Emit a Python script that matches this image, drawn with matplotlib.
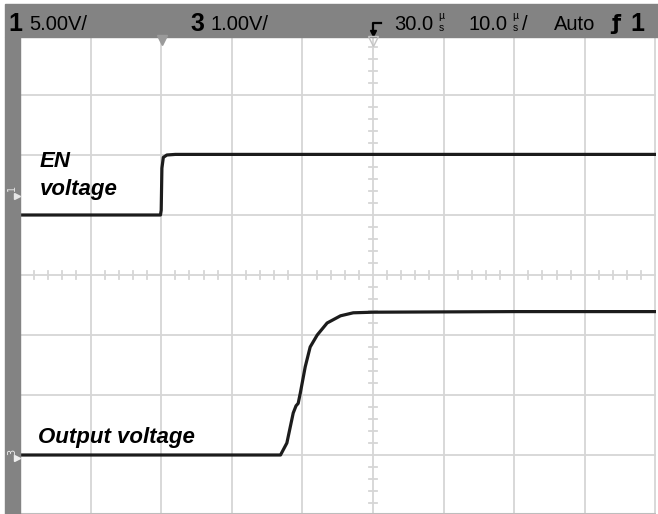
import numpy as np
import matplotlib.pyplot as plt
from matplotlib.patches import Rectangle

# channel 1 : EN voltage (5 V/div, ground at +1 div)
en_time = [-20.0, -0.1, 0.0, 0.1, 0.3, 0.8, 2.0, 70.1]
en_volt = [0.0, 0.0, 0.4, 3.9, 4.8, 5.0, 5.05, 5.05]

# channel 3 : output voltage (1 V/div, ground at -3 div)
out_time = [-20.0, 16.9, 17.8, 18.7, 19.1, 19.4, 19.7, 20.4, 21.1, 22.1, 23.5, 25.4, 27.2, 30.0, 50.0, 70.1]
out_volt = [0.0, 0.0, 0.2, 0.7, 0.82, 0.86, 1.03, 1.47, 1.8, 2.0, 2.2, 2.32, 2.37, 2.38, 2.39, 2.39]

ch1_scale, ch1_offset = 5.0, 1.0
ch3_scale, ch3_offset = 1.0, -3.0

header_left = ["5.00V/", "1.00V/"]
time_delay = "30.0"
time_base = "10.0"

W, H = 658, 514
fig = plt.figure(figsize=(W / 100, H / 100), dpi=100)
fig.patch.set_facecolor('white')

# scope screen: x in us, y in divisions
ax = fig.add_axes([20 / W, 0, 636 / W, 477 / H])
ax.set_xlim(-20, -20 + 636 / 7.06)
ax.set_ylim((275 - 514) / 60, (275 - 37) / 60)
ax.axis('off')

grid_col = '#d6d6d6'
for t in np.arange(-10, 71, 10):
    ax.axvline(t, color=grid_col, lw=1.3, zorder=1)
for d in np.arange(-3, 4, 1):
    ax.axhline(d, color=grid_col, lw=1.3, zorder=1)
ax.axhline(-3.975, color='#bdbdbd', lw=1.5, zorder=1)

# minor ticks on the centre axes
for t in np.arange(-20, 70.1, 2):
    if t % 10 != 0:
        ax.plot([t, t], [-0.07, 0.07], color=grid_col, lw=1.3, zorder=1)
for d in np.arange(-4, 4.01, 0.2):
    if abs(d - round(d)) > 1e-6:
        ax.plot([29.45, 30.55], [d, d], color=grid_col, lw=1.3, zorder=1)

ax.plot(en_time, np.array(en_volt) / ch1_scale + ch1_offset,
        color='#1c1c1c', lw=2.3, zorder=3, solid_joinstyle='round')
ax.plot(out_time, np.array(out_volt) / ch3_scale + ch3_offset,
        color='#1c1c1c', lw=2.3, zorder=3, solid_joinstyle='round')

# overlay in pixel units for the scope decorations and labels
ov = fig.add_axes([0, 0, 1, 1])
ov.set_xlim(0, W)
ov.set_ylim(H, 0)
ov.axis('off')
ov.patch.set_alpha(0)

gray = '#838383'
ov.add_patch(Rectangle((5, 4), W - 5, 33, color=gray, zorder=2))
ov.add_patch(Rectangle((5, 37), 15, H - 37, color=gray, zorder=2))

hfont = ['Liberation Sans', 'DejaVu Sans']
hs = 14.5
ov.text(8, 31, "1", fontsize=18, fontweight='bold', family=hfont, va='baseline', zorder=4)
ov.text(29, 30, header_left[0], fontsize=hs, family=hfont, va='baseline', zorder=4)
ov.text(190, 31, "3", fontsize=18, fontweight='bold', family=hfont, va='baseline', zorder=4)
ov.text(211, 30, header_left[1], fontsize=hs, family=hfont, va='baseline', zorder=4)

ov.text(433, 30, time_delay, fontsize=hs, family=hfont, ha='right', va='baseline', zorder=4)
ov.text(441, 16, "µ", fontsize=7.5, family=hfont, ha='center', va='center', zorder=4)
ov.text(441, 28, "s", fontsize=7.5, family=hfont, ha='center', va='center', zorder=4)
ov.text(507, 30, time_base, fontsize=hs, family=hfont, ha='right', va='baseline', zorder=4)
ov.text(515, 16, "µ", fontsize=7.5, family=hfont, ha='center', va='center', zorder=4)
ov.text(515, 28, "s", fontsize=7.5, family=hfont, ha='center', va='center', zorder=4)
ov.text(522, 30, "/", fontsize=hs, family=hfont, va='baseline', zorder=4)
ov.text(554, 30, "Auto", fontsize=hs, family=hfont, va='baseline', zorder=4)
ov.text(611, 30, "ƒ", fontsize=15, fontweight='bold', family=['DejaVu Sans'], va='baseline', zorder=4)
ov.text(630, 31, "1", fontsize=18, fontweight='bold', family=hfont, va='baseline', zorder=4)

# trigger position symbol and screen markers
ov.plot([381, 373, 373], [23, 23, 31], color='black', lw=1.6, zorder=4)
ov.plot([373], [33], marker='v', color='black', ms=5, zorder=4)
ov.plot([373], [41], marker='v', mfc='none', mec='#c4c4c4', ms=7, zorder=4)
ov.plot([161.5], [40], marker='v', color='#9a9a9a', ms=7, zorder=4)

ov.text(12, 188, "1", fontsize=7, color='#e6e6e6', rotation=90, ha='center', va='center', zorder=4)
ov.plot([17], [196], marker='>', color='#e6e6e6', ms=4, zorder=4)
ov.text(12, 452, "3", fontsize=7, color='#f0f0f0', rotation=90, ha='center', va='center', zorder=4)
ov.plot([17], [458], marker='>', color='#f0f0f0', ms=4, zorder=4)

lfont = ['Liberation Sans', 'DejaVu Sans']
ov.text(40, 167, "EN", fontsize=16, fontweight='bold', style='italic', family=lfont, va='baseline', zorder=4)
ov.text(40, 195, "voltage", fontsize=16, fontweight='bold', style='italic', family=lfont, va='baseline', zorder=4)
ov.text(38, 443, "Output voltage", fontsize=16, fontweight='bold', style='italic', family=lfont, va='baseline', zorder=4)

fig.savefig('out.png', dpi=100, facecolor='white')
